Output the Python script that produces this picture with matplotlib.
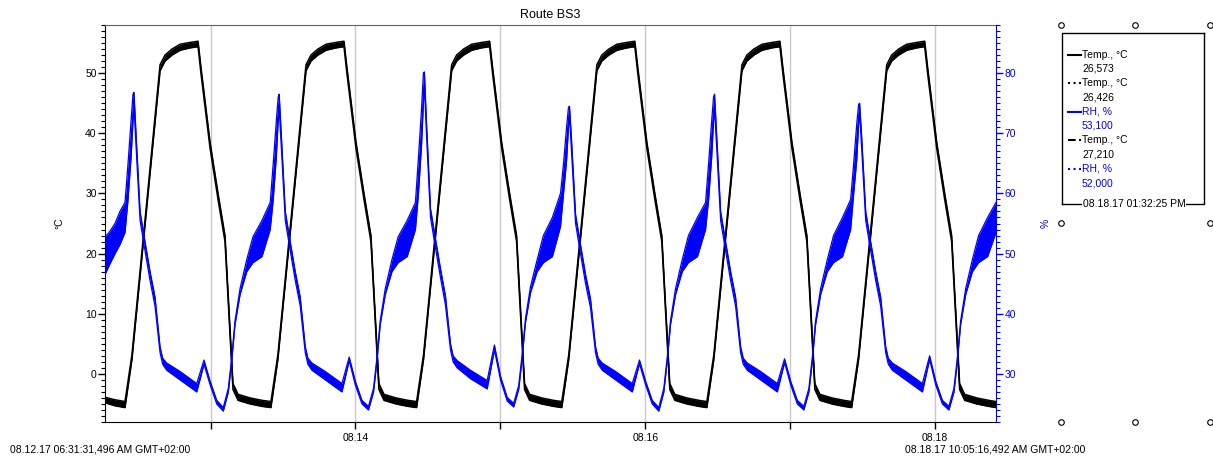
import matplotlib
matplotlib.use("Agg")
import matplotlib.pyplot as plt
from matplotlib.ticker import MultipleLocator, FixedLocator, FuncFormatter

plt.rcParams['font.family'] = ['Liberation Sans', 'DejaVu Sans']

# time axis: day of August 2017 (fractional)
t_start = 12.272   # 08.12.17 06:31:31
t_end = 18.420     # 08.18.17 10:05:16

# temperature (deg C), lower / upper edge of the overlapping loggers
t_temp = [
    12.272, 12.340,
    12.410, 12.458, 12.652, 12.686, 12.734, 12.790, 12.859, 12.914, 12.934, 12.997, 13.052, 13.100, 13.155, 13.190, 13.273, 13.355,
    13.417, 13.465, 13.659, 13.693, 13.741, 13.797, 13.866, 13.921, 13.941, 14.004, 14.059, 14.107, 14.162, 14.197, 14.280, 14.362,
    14.422, 14.470, 14.664, 14.698, 14.746, 14.802, 14.871, 14.926, 14.946, 15.009, 15.064, 15.112, 15.167, 15.202, 15.285, 15.367,
    15.424, 15.472, 15.666, 15.700, 15.748, 15.804, 15.873, 15.928, 15.948, 16.011, 16.066, 16.114, 16.169, 16.204, 16.287, 16.369,
    16.425, 16.473, 16.667, 16.701, 16.749, 16.805, 16.874, 16.929, 16.949, 17.012, 17.067, 17.115, 17.170, 17.205, 17.288, 17.370,
    17.424, 17.472, 17.666, 17.700, 17.748, 17.804, 17.873, 17.928, 17.948, 18.011, 18.066, 18.114, 18.169, 18.204, 18.287, 18.369,
    18.420,
]
temp_lo = [
    -4.8, -5.3,
    -5.6, 2.4, 50.4, 52.0, 53.0, 53.8, 54.2, 54.4, 50.0, 37.5, 29.0, 22.0, -2.6, -4.4, -5.0, -5.4,
    -5.6, 2.4, 50.4, 52.0, 53.0, 53.8, 54.2, 54.4, 50.0, 37.5, 29.0, 22.0, -2.6, -4.4, -5.0, -5.4,
    -5.6, 2.4, 50.4, 52.0, 53.0, 53.8, 54.2, 54.4, 50.0, 37.5, 29.0, 22.0, -2.6, -4.4, -5.0, -5.4,
    -5.6, 2.4, 50.4, 52.0, 53.0, 53.8, 54.2, 54.4, 50.0, 37.5, 29.0, 22.0, -2.6, -4.4, -5.0, -5.4,
    -5.6, 2.4, 50.4, 52.0, 53.0, 53.8, 54.2, 54.4, 50.0, 37.5, 29.0, 22.0, -2.6, -4.4, -5.0, -5.4,
    -5.6, 2.4, 50.4, 52.0, 53.0, 53.8, 54.2, 54.4, 50.0, 37.5, 29.0, 22.0, -2.6, -4.4, -5.0, -5.4,
    -5.6,
]
temp_hi = [
    -3.9, -4.3,
    -4.6, 3.2, 51.4, 53.0, 54.0, 54.8, 55.1, 55.3, 51.0, 38.5, 30.0, 23.0, -1.6, -3.4, -4.0, -4.4,
    -4.6, 3.2, 51.4, 53.0, 54.0, 54.8, 55.1, 55.3, 51.0, 38.5, 30.0, 23.0, -1.6, -3.4, -4.0, -4.4,
    -4.6, 3.2, 51.4, 53.0, 54.0, 54.8, 55.1, 55.3, 51.0, 38.5, 30.0, 23.0, -1.6, -3.4, -4.0, -4.4,
    -4.6, 3.2, 51.4, 53.0, 54.0, 54.8, 55.1, 55.3, 51.0, 38.5, 30.0, 23.0, -1.6, -3.4, -4.0, -4.4,
    -4.6, 3.2, 51.4, 53.0, 54.0, 54.8, 55.1, 55.3, 51.0, 38.5, 30.0, 23.0, -1.6, -3.4, -4.0, -4.4,
    -4.6, 3.2, 51.4, 53.0, 54.0, 54.8, 55.1, 55.3, 51.0, 38.5, 30.0, 23.0, -1.6, -3.4, -4.0, -4.4,
    -4.6,
]

# relative humidity (%), lower / upper edge
t_rh = [
    12.272, 12.300, 12.341, 12.375,
    12.410, 12.431, 12.452, 12.465, 12.472, 12.486, 12.514, 12.548, 12.583, 12.617, 12.652, 12.670, 12.698,
    12.790, 12.905, 12.955, 12.997, 13.043, 13.088, 13.123, 13.146, 13.169, 13.204, 13.250, 13.293, 13.355,
    13.412, 13.433, 13.454, 13.467, 13.474, 13.488, 13.516, 13.550, 13.585, 13.619, 13.654, 13.672, 13.700,
    13.792, 13.907, 13.957, 13.999, 14.045, 14.090, 14.125, 14.148, 14.171, 14.206, 14.252, 14.295, 14.357,
    14.414, 14.435, 14.456, 14.469, 14.476, 14.490, 14.518, 14.552, 14.587, 14.621, 14.656, 14.674, 14.702,
    14.794, 14.909, 14.959, 15.001, 15.047, 15.092, 15.127, 15.150, 15.173, 15.208, 15.254, 15.297, 15.359,
    15.415, 15.436, 15.457, 15.470, 15.477, 15.491, 15.519, 15.553, 15.588, 15.622, 15.657, 15.675, 15.703,
    15.795, 15.910, 15.960, 16.002, 16.048, 16.093, 16.128, 16.151, 16.174, 16.209, 16.255, 16.298, 16.360,
    16.416, 16.437, 16.458, 16.471, 16.478, 16.492, 16.520, 16.554, 16.589, 16.623, 16.658, 16.676, 16.704,
    16.796, 16.911, 16.961, 17.003, 17.049, 17.094, 17.129, 17.152, 17.175, 17.210, 17.256, 17.299, 17.361,
    17.417, 17.438, 17.459, 17.472, 17.479, 17.493, 17.521, 17.555, 17.590, 17.624, 17.659, 17.677, 17.705,
    17.797, 17.912, 17.962, 18.004, 18.050, 18.095, 18.130, 18.153, 18.176, 18.211, 18.257, 18.300, 18.362,
    18.420,
]
rh_lo = [
    46.5, 48.0, 50.0, 51.5,
    53.5, 59.0, 66.0, 72.0, 74.5, 68.0, 55.5, 50.5, 45.5, 41.3, 33.5, 31.6, 30.6,
    29.0, 27.0, 31.6, 28.2, 25.0, 23.8, 27.0, 32.0, 38.2, 43.2, 47.0, 48.5, 49.5,
    54.0, 59.0, 66.0, 72.0, 74.0, 68.0, 55.5, 50.5, 45.5, 41.3, 33.5, 31.6, 30.6,
    29.0, 27.0, 32.2, 28.2, 25.0, 24.0, 27.0, 32.0, 38.2, 43.2, 47.0, 48.5, 49.5,
    54.0, 60.0, 68.0, 75.0, 78.0, 70.0, 56.0, 51.0, 46.0, 41.5, 34.0, 32.0, 31.0,
    29.2, 27.5, 34.0, 29.0, 25.5, 24.5, 27.5, 32.5, 38.5, 43.5, 47.0, 48.5, 49.5,
    54.5, 60.0, 65.5, 71.0, 73.0, 67.0, 55.0, 50.0, 45.0, 41.0, 33.5, 31.6, 30.6,
    29.0, 27.0, 31.7, 28.2, 25.0, 23.8, 27.0, 32.0, 38.2, 43.2, 47.0, 48.5, 49.5,
    54.0, 59.0, 66.0, 72.0, 74.0, 68.0, 55.5, 50.5, 45.5, 41.3, 33.5, 31.6, 30.6,
    29.0, 27.0, 31.9, 28.2, 25.0, 24.0, 27.0, 32.0, 38.2, 43.2, 47.0, 48.5, 49.5,
    54.0, 60.0, 65.5, 71.5, 73.5, 67.5, 55.5, 50.5, 45.5, 41.3, 33.5, 31.6, 30.6,
    29.0, 27.0, 32.4, 28.2, 25.0, 24.0, 27.0, 32.0, 38.2, 43.2, 47.0, 48.5, 49.5,
    53.5,
]
rh_hi = [
    52.8, 53.5, 55.0, 57.0,
    58.5, 65.0, 72.0, 76.5, 76.8, 70.0, 57.0, 52.0, 47.0, 42.8, 34.5, 32.6, 31.8,
    30.4, 28.4, 32.3, 28.8, 25.6, 24.4, 27.6, 32.6, 38.8, 44.2, 49.0, 52.8, 55.5,
    58.5, 65.0, 72.0, 76.0, 76.5, 70.0, 57.0, 52.0, 47.0, 42.8, 34.5, 32.6, 31.8,
    30.4, 28.4, 32.8, 28.8, 25.6, 24.6, 27.6, 32.6, 38.8, 44.2, 49.0, 52.8, 55.5,
    58.5, 66.0, 74.0, 80.0, 80.2, 72.0, 57.5, 52.5, 47.5, 43.0, 35.0, 33.0, 32.2,
    30.6, 28.9, 34.8, 29.6, 26.1, 25.1, 28.1, 33.1, 39.1, 44.5, 49.0, 53.0, 56.0,
    60.0, 65.0, 71.0, 74.3, 74.5, 69.0, 56.5, 51.5, 46.5, 42.5, 34.5, 32.6, 31.8,
    30.4, 28.4, 32.3, 28.8, 25.6, 24.4, 27.6, 32.6, 38.8, 44.2, 49.0, 53.0, 56.0,
    58.5, 65.0, 72.0, 76.0, 76.5, 70.0, 57.0, 52.0, 47.0, 42.8, 34.5, 32.6, 31.8,
    30.4, 28.4, 32.5, 28.8, 25.6, 24.6, 27.6, 32.6, 38.8, 44.2, 49.0, 53.0, 56.0,
    59.0, 65.0, 71.5, 74.8, 75.0, 69.5, 57.0, 52.0, 47.0, 42.8, 34.5, 32.6, 31.8,
    30.4, 28.4, 33.0, 28.8, 25.6, 24.6, 27.6, 32.6, 38.8, 44.2, 49.0, 53.0, 56.0,
    58.5,
]

legend_names = ['Temp., °C', 'Temp., °C', 'RH, %', 'Temp., °C', 'RH, %']
legend_values = ['26,573', '26,426', '53,100', '27,210', '52,000']
legend_styles = ['-', ':', '-', '--', ':']
legend_colors = ['black', 'black', 'blue', 'black', 'blue']
cursor_label = '08.18.17 01:32:25 PM'
start_label = '08.12.17 06:31:31,496 AM GMT+02:00'
end_label = '08.18.17 10:05:16,492 AM GMT+02:00'

W, H = 1213, 457
fig = plt.figure(figsize=(W / 100, H / 100), dpi=100)
ax = fig.add_axes([105 / W, 1 - 422 / H, (996 - 105) / W, (422 - 25) / H])
ax2 = ax.twinx()

# temperature band
ax.fill_between(t_temp, temp_lo, temp_hi, color='black', lw=0)
ax.plot(t_temp, temp_lo, color='black', lw=1.1)
ax.plot(t_temp, temp_hi, color='black', lw=1.1)

# humidity band
ax2.fill_between(t_rh, rh_lo, rh_hi, color='blue', lw=0)
ax2.plot(t_rh, rh_lo, color='blue', lw=0.9)
ax2.plot(t_rh, rh_hi, color='blue', lw=0.9)

ax.set_xlim(t_start, t_end)
ax.set_ylim(-8, 58)
ax2.set_ylim(22, 88)

ax.xaxis.set_major_locator(FixedLocator([13, 14, 15, 16, 17, 18]))
ax.xaxis.set_major_formatter(FuncFormatter(lambda v, p: '08.%02d' % round(v) if round(v) % 2 == 0 else ''))
ax.grid(axis='x', color='#c8c8c8', lw=1)
ax.set_axisbelow(True)

ax.yaxis.set_major_locator(MultipleLocator(10))
ax.yaxis.set_minor_locator(MultipleLocator(1))
ax2.yaxis.set_major_locator(MultipleLocator(10))
ax2.yaxis.set_minor_locator(MultipleLocator(1))

ax.tick_params(axis='both', which='major', length=5, width=1, labelsize=7.5, pad=1, colors='black')
ax.tick_params(axis='x', which='major', pad=3)
ax.tick_params(axis='y', which='minor', length=3, width=0.8, colors='black')
ax2.tick_params(axis='y', which='major', length=5, width=1, labelsize=7.5, pad=1, colors='blue')
ax2.tick_params(axis='y', which='minor', length=3, width=0.8, colors='blue')

for s in ['left', 'bottom']:
    ax.spines[s].set_color('black')
ax.spines['top'].set_color('#606060')
ax.spines['right'].set_visible(False)
for s in ['left', 'bottom', 'top']:
    ax2.spines[s].set_visible(False)
ax2.spines['right'].set_color('blue')

ax.set_title('Route BS3', fontsize=9, pad=5)
ax.set_ylabel('°C', fontsize=7.5, labelpad=15)
ax2.set_ylabel('%', fontsize=7.5, color='blue', labelpad=18)

# overlay in pixel coordinates for the legend panel and decorations
ov = fig.add_axes([0, 0, 1, 1], zorder=10)
ov.set_xlim(0, W)
ov.set_ylim(H, 0)
ov.axis('off')

ov.text(10, 450, start_label, fontsize=7.5, ha='left', va='center')
ov.text(995, 450, end_label, fontsize=7.5, ha='center', va='center')

# legend panel
bx0, bx1, by0, by1 = 1062, 1204, 33, 204
ov.plot([bx0, bx1, bx1], [by1, by1, by0], color='black', lw=1)
ov.plot([bx0, bx0, bx1], [by1, by0, by0], color='black', lw=1)
ov.text((bx0 + bx1) / 2 + 1, by1, cursor_label, fontsize=7.5, ha='center', va='center',
        bbox=dict(facecolor='white', edgecolor='none', pad=0.3))
for i in range(len(legend_names)):
    y = 54.5 + i * 28.6
    ov.plot([1068, 1081], [y, y], color=legend_colors[i], ls=legend_styles[i], lw=1.5)
    ov.text(1082, y, legend_names[i], fontsize=7.5, color=legend_colors[i], va='center')
    ov.text(1082, y + 14.3, legend_values[i], fontsize=7.5, color=legend_colors[i], va='center')

# selection handles around the legend area
hx = [1061, 1135, 1210, 1061, 1210, 1061, 1135, 1210]
hy = [25, 25, 25, 223, 223, 422, 422, 422]
ov.plot(hx, hy, 'o', ms=4, mfc='white', mec='black', mew=0.8, ls='none')

fig.savefig('out.png', dpi=100)
